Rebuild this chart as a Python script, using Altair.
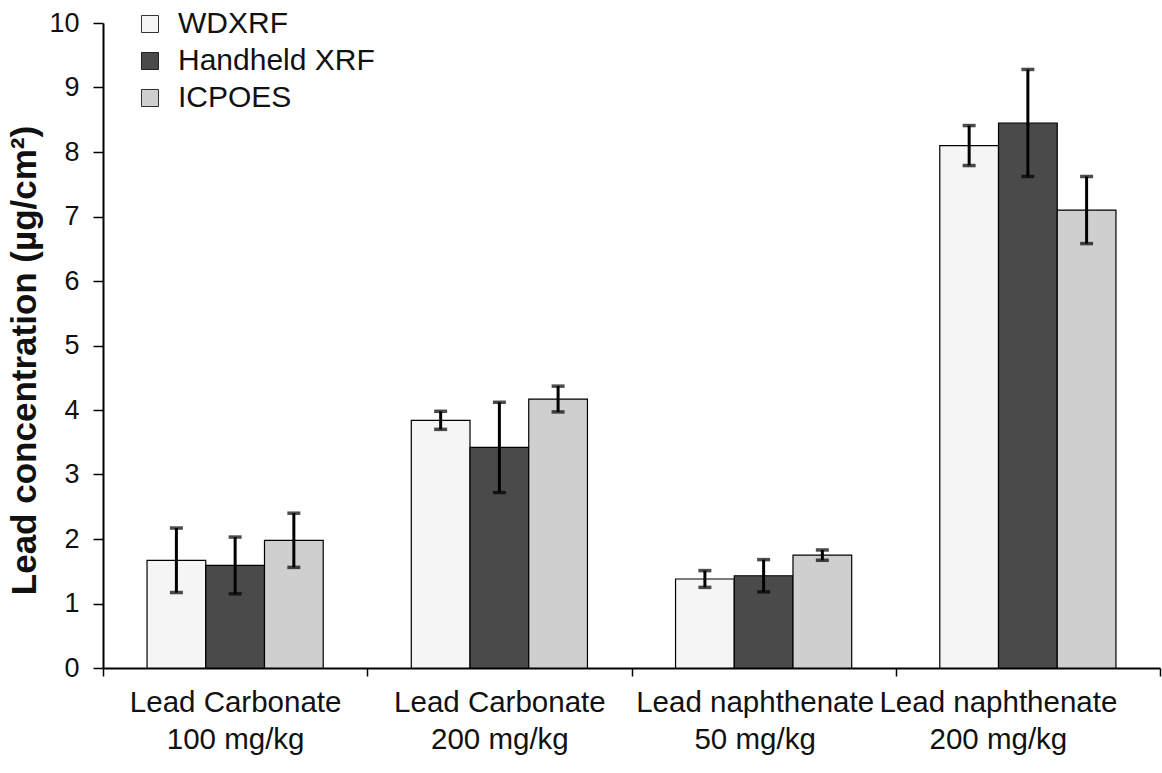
import altair as alt
import pandas as pd

# Sample types (two-line axis labels, split on "|")
categories = [
    "Lead Carbonate|100 mg/kg",
    "Lead Carbonate|200 mg/kg",
    "Lead naphthenate|50 mg/kg",
    "Lead naphthenate|200 mg/kg",
]
methods = ["WDXRF", "Handheld XRF", "ICPOES"]

# Mean lead concentration (µg/cm²) per method
wdxrf = [1.67, 3.84, 1.38, 8.10]
handheld = [1.59, 3.42, 1.43, 8.45]
icpoes = [1.98, 4.17, 1.75, 7.10]

# Standard deviations (error bar half-widths)
wdxrf_sd = [0.50, 0.14, 0.13, 0.31]
handheld_sd = [0.44, 0.70, 0.25, 0.83]
icpoes_sd = [0.42, 0.20, 0.08, 0.52]

fills = ["#f5f5f5", "#4a4a4a", "#cfcfcf"]

rows = []
for m, vals, sds in [
    ("WDXRF", wdxrf, wdxrf_sd),
    ("Handheld XRF", handheld, handheld_sd),
    ("ICPOES", icpoes, icpoes_sd),
]:
    for c, v, s in zip(categories, vals, sds):
        rows.append({"sample": c, "method": m, "value": v, "lo": v - s, "hi": v + s})
df = pd.DataFrame(rows)

FONT = "Liberation Sans"

# the two right-hand labels are nudged left so the last one stays inside the frame
label_shift = {
    "condition": [
        {"test": f"datum.value == '{categories[3]}'", "value": -30},
        {"test": f"datum.value == '{categories[2]}'", "value": -9},
    ],
    "value": 0,
}

x_enc = alt.X(
    "sample:N",
    sort=categories,
    scale=alt.Scale(paddingInner=0, paddingOuter=0),
    axis=alt.Axis(
        title=None,
        labelExpr="split(datum.label, '|')",
        labelAngle=0,
        labelOffset=label_shift,
        tickBand="extent",
    ),
)
xoff = alt.XOffset(
    "method:N",
    sort=methods,
    scale=alt.Scale(paddingInner=0, paddingOuter=0.75),
)
y_scale = alt.Scale(domain=[0, 10], nice=False)

bars = alt.Chart(df).mark_bar(stroke="black", strokeWidth=1.2).encode(
    x=x_enc,
    xOffset=xoff,
    y=alt.Y(
        "value:Q",
        scale=y_scale,
        axis=alt.Axis(
            title="Lead concentration (µg/cm²)",
            values=list(range(0, 11)),
            format="d",
            titleY=337,
        ),
    ),
    fill=alt.Fill(
        "method:N",
        sort=methods,
        scale=alt.Scale(domain=methods, range=fills),
        legend=alt.Legend(
            title=None,
            orient="none",
            legendX=32,
            legendY=-14,
            symbolType="square",
            symbolSize=290,
            symbolStrokeColor="black",
            symbolStrokeWidth=0.8,
            labelFont=FONT,
            labelFontSize=30,
            labelColor="#111",
            labelLimit=400,
            rowPadding=7,
            labelOffset=13,
        ),
    ),
)

err = alt.Chart(df).mark_rule(color="black", strokeWidth=3).encode(
    x=alt.X("sample:N", sort=categories),
    xOffset=alt.XOffset("method:N", sort=methods),
    y=alt.Y("lo:Q", scale=y_scale),
    y2="hi:Q",
)

caps = [
    alt.Chart(df).mark_tick(color="black", thickness=3.5, size=13, orient="horizontal").encode(
        x=alt.X("sample:N", sort=categories),
        xOffset=alt.XOffset("method:N", sort=methods),
        y=alt.Y(f"{field}:Q", scale=y_scale),
    )
    for field in ["hi", "lo"]
]

chart = (
    alt.layer(bars, err, *caps)
    .properties(
        width=1057,
        height=645,
        autosize=alt.AutoSizeParams(type="none"),
        padding={"left": 103, "top": 23, "right": 2, "bottom": 105},
        background="white",
    )
    .configure_view(stroke=None)
    .configure_axis(
        grid=False,
        domainColor="black",
        domainWidth=2,
        tickColor="black",
        tickWidth=1.5,
        labelFont=FONT,
        labelColor="#111",
        labelLimit=400,
    )
    .configure_axisX(
        tickSize=8,
        labelFontSize=29.5,
        labelLineHeight=37,
        labelPadding=12,
    )
    .configure_axisY(
        tickSize=10,
        labelFontSize=27,
        labelPadding=14,
        titleFont=FONT,
        titleFontSize=35,
        titleFontWeight="bold",
        titleColor="#111",
        titlePadding=6,
    )
)

chart.save("out.html", embed_options={"renderer": "svg", "actions": False})
